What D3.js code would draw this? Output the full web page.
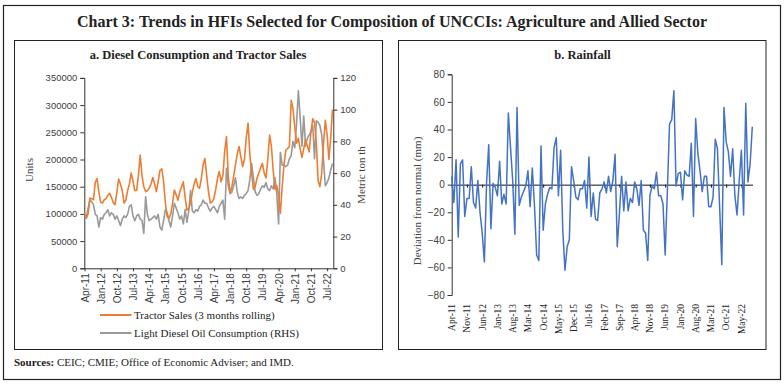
<!DOCTYPE html>
<html>
<head>
<meta charset="utf-8">
<script src="https://cdn.jsdelivr.net/npm/d3@7"></script>
<style>
  body { margin: 0; background: #fff; }
  svg { display: block; }
  .serif { font-family: "Liberation Serif", "DejaVu Serif", serif; }
  .tick text { font-family: "Liberation Sans", Arial, sans-serif; fill: #404040; }
</style>
</head>
<body>
<svg id="chart" width="784" height="387"></svg>
<script>
// monthly, Apr-11 .. Oct-22
var tractorSales = [
  95000, 92000, 100000, 129000, 128000, 126000, 158000, 165000, 140000, 121000,
  120000, 126000, 128000, 134000, 138000, 130000, 121000, 117000, 140000, 164000,
  155000, 143000, 120000, 125000, 143000, 155000, 175000, 160000, 143000, 143000,
  170000, 208000, 170000, 150000, 141000, 143000, 147000, 155000, 167000, 155000,
  141000, 160000, 180000, 183000, 160000, 120000, 95000, 92000, 100000, 120000,
  144000, 135000, 125000, 140000, 150000, 159000, 130000, 107000, 110000, 119000,
  140000, 155000, 165000, 150000, 147000, 165000, 190000, 202000, 170000, 141000,
  120000, 122000, 128000, 145000, 165000, 178000, 159000, 170000, 215000, 242000,
  169000, 138000, 150000, 169000, 190000, 210000, 224000, 205000, 187000, 200000,
  240000, 267000, 210000, 175000, 145000, 150000, 166000, 175000, 185000, 193000,
  175000, 166000, 200000, 245000, 224000, 180000, 145000, 152000, 135000, 101000,
  150000, 190000, 217000, 220000, 224000, 309000, 294000, 260000, 230000, 239000,
  220000, 204000, 220000, 236000, 225000, 214000, 250000, 275000, 268000, 230000,
  161000, 150000, 175000, 230000, 272000, 245000, 200000, 240000, 292000
];
var dieselConsumption = [
  35, 32, 38, 43, 42, 40, 34, 33, 26, 32,
  31, 34, 35, 37, 33, 35, 34, 31, 33, 30,
  27, 31, 33, 32, 34, 39, 40, 33, 30, 33,
  34, 31, 30, 22, 45, 34, 30, 31, 32, 33,
  31, 34, 26, 24, 30, 37, 35, 30, 26, 33,
  41, 38, 35, 31, 33, 28, 37, 29, 36, 49,
  36, 35, 37, 36, 39, 40, 43, 41, 41, 38,
  36, 38, 39, 37, 35, 39, 41, 43, 31, 63,
  52, 47, 48, 52, 57, 48, 44, 45, 44, 46,
  47, 49, 56, 66, 57, 48, 46, 47, 50, 52,
  51, 54, 50, 49, 52, 50, 57, 47, 28, 73,
  65, 65, 64, 65, 69, 71, 80, 76, 91, 112,
  95, 77, 96, 77, 82, 84, 86, 90, 69, 93,
  92, 90, 84, 68, 52, 54, 57, 62, 66
];
var rainfall = [
  6, -13, 18, -38, 15, 18, -23, -10, -10, 13,
  -13, -17, 3, -20, -35, -56, 1, 29, -32, 1,
  -2, -8, 17, -14, -7, -14, 52, 27, 3, -36,
  56, -15, -9, -5, -1, 10, -16, 12, -15, -51,
  -55, 28, -33, -14, -7, -2, -3, 27, 34, -8,
  25, -33, -62, -45, -40, 13, 3, -9, -11, -3,
  -3, 3, -17, 20, -23, -6, -25, -26, -6, -3,
  2, -6, 6, -5, 3, 22, -45, -21, 6, -19,
  2, -19, -10, -13, 2, -3, -15, 3, -33, -35,
  -55, -8, -1, -3, 9, -8, -8, -14, -51, -5,
  44, 47, 68, -1, 8, 9, -11, 10, 7, 6,
  30, -23, 48, 23, 10, -5, 6, 6, -16, -16,
  -9, 33, 26, -16, -58, 56, 31, 24, 6, 26,
  -8, -22, 3, 25, -22, 59, 2, 15, 42
];
var months = d3.timeMonth.range(new Date(2011, 3, 1), new Date(2022, 10, 1)).map(d3.timeFormat("%b-%y"));
var unitsTicks = [0, 50000, 100000, 150000, 200000, 250000, 300000, 350000];
var tonTicks = [0, 20, 40, 60, 80, 100, 120];
var rainTicks = [-80, -60, -40, -20, 0, 20, 40, 60, 80];

var svg = d3.select("#chart");
var serif = '"Liberation Serif", "DejaVu Serif", serif';

// frames
svg.append("rect").attr("x", 3.5).attr("y", 5.5).attr("width", 777).attr("height", 374)
  .attr("fill", "none").attr("stroke", "#222").attr("stroke-width", 1.2);
svg.append("rect").attr("x", 14.5).attr("y", 40.5).attr("width", 368).attr("height", 309)
  .attr("fill", "none").attr("stroke", "#222").attr("stroke-width", 1);
svg.append("rect").attr("x", 398.5).attr("y", 40.5).attr("width", 367.5).attr("height", 309)
  .attr("fill", "none").attr("stroke", "#222").attr("stroke-width", 1);

svg.append("text").attr("class", "serif").attr("x", 392).attr("y", 27)
  .attr("text-anchor", "middle").attr("font-size", 16).attr("font-weight", "bold").attr("fill", "#222")
  .text("Chart 3: Trends in HFIs Selected for Composition of UNCCIs: Agriculture and Allied Sector");

var src = svg.append("text").attr("class", "serif").attr("x", 14).attr("y", 366)
  .attr("font-size", 11).attr("fill", "#222");
src.append("tspan").attr("font-weight", "bold").text("Sources: ");
src.append("tspan").text("CEIC; CMIE; Office of Economic Adviser; and IMD.");

// ---- panel a ----
var xL = d3.scalePoint().domain(months).range([84.5, 332.5]);
var yL = d3.scaleLinear().domain([0, 350000]).range([268.3, 77.9]);
var yR = d3.scaleLinear().domain([0, 120]).range([268.3, 77.9]);

svg.append("text").attr("class", "serif").attr("x", 198).attr("y", 58.5)
  .attr("text-anchor", "middle").attr("font-size", 12.5).attr("font-weight", "bold").attr("fill", "#222")
  .text("a. Diesel Consumption and Tractor Sales");

var gL = svg.append("g").attr("transform", "translate(84.3,0)")
  .call(d3.axisLeft(yL).tickValues(unitsTicks).tickSize(4).tickFormat(d3.format("d")));
var gR = svg.append("g").attr("transform", "translate(333.3,0)")
  .call(d3.axisRight(yR).tickValues(tonTicks).tickSize(4));
[gL, gR].forEach(function (g) {
  g.selectAll("path, line").attr("stroke", "#333");
  g.selectAll("text").attr("font-size", 9.5);
});

var gX = svg.append("g").attr("transform", "translate(0,268.3)")
  .call(d3.axisBottom(xL).tickValues(months.filter(function (d, i) { return i % 9 === 0; })).tickSize(3));
gX.select(".domain").attr("d", "M84.3,0.5H333.3").attr("stroke", "#333");
gX.selectAll("line").attr("stroke", "#333");
gX.selectAll("text").attr("font-family", serif).attr("fill", "#222").attr("font-size", 10)
  .attr("text-anchor", "end").attr("transform", "rotate(-90)")
  .attr("x", -5).attr("y", 0).attr("dy", "0.35em");

svg.append("text").attr("class", "serif").attr("font-size", 11).attr("fill", "#444")
  .attr("text-anchor", "middle").attr("transform", "translate(33,170) rotate(-90)").text("Units");
svg.append("text").attr("class", "serif").attr("font-size", 11).attr("fill", "#444")
  .attr("text-anchor", "middle").attr("transform", "translate(365,175) rotate(-90)").text("Metric ton th");

var lineDiesel = d3.line().x(function (d, i) { return xL(months[i]); }).y(function (d) { return yR(d); });
var lineTractor = d3.line().x(function (d, i) { return xL(months[i]); }).y(function (d) { return yL(d); });

svg.append("path").datum(dieselConsumption).attr("d", lineDiesel)
  .attr("fill", "none").attr("stroke", "#999999").attr("stroke-width", 1.6).attr("stroke-linejoin", "round");
svg.append("path").datum(tractorSales).attr("d", lineTractor)
  .attr("fill", "none").attr("stroke", "#ED7D31").attr("stroke-width", 1.6).attr("stroke-linejoin", "round");

var legend = [
  { label: "Tractor Sales (3 months rolling)", color: "#ED7D31", y: 315 },
  { label: "Light Diesel Oil Consumption (RHS)", color: "#999999", y: 333 }
];
legend.forEach(function (l) {
  svg.append("line").attr("x1", 100).attr("x2", 131.5).attr("y1", l.y).attr("y2", l.y)
    .attr("stroke", l.color).attr("stroke-width", 2);
  svg.append("text").attr("class", "serif").attr("x", 134).attr("y", l.y).attr("dy", "0.35em")
    .attr("font-size", 11).attr("fill", "#222").text(l.label);
});

// ---- panel b ----
var xRain = d3.scalePoint().domain(months).range([451.7, 752.3]);
var yRain = d3.scaleLinear().domain([-80, 80]).range([295, 74.3]);

svg.append("text").attr("class", "serif").attr("x", 582.5).attr("y", 58.5)
  .attr("text-anchor", "middle").attr("font-size", 12.5).attr("font-weight", "bold").attr("fill", "#222")
  .text("b. Rainfall");

var gY = svg.append("g").attr("transform", "translate(451.7,0)")
  .call(d3.axisLeft(yRain).tickValues(rainTicks).tickSize(4));
gY.selectAll("path, line").attr("stroke", "#333");
gY.selectAll("text").attr("font-size", 10);

var rainTickMonths = months.filter(function (d, i) { return i % 7 === 0; });
var gZ = svg.append("g").attr("transform", "translate(0," + yRain(0) + ")")
  .call(d3.axisBottom(xRain).tickValues(rainTickMonths).tickSize(3).tickFormat(""));
gZ.select(".domain").attr("d", "M451.7,0.5H753").attr("stroke", "#111");
gZ.selectAll("line").attr("stroke", "#111");

svg.append("g").selectAll("text").data(rainTickMonths).join("text")
  .attr("font-family", serif).attr("font-size", 9.5).attr("fill", "#222")
  .attr("text-anchor", "end")
  .attr("transform", function (d) { return "translate(" + xRain(d) + ",304) rotate(-90)"; })
  .attr("dy", "0.35em").text(function (d) { return d; });

svg.append("text").attr("class", "serif").attr("font-size", 11).attr("fill", "#444")
  .attr("text-anchor", "middle").attr("transform", "translate(421,201) rotate(-90)")
  .text("Deviation from normal (mm)");

var lineRain = d3.line().x(function (d, i) { return xRain(months[i]); }).y(function (d) { return yRain(d); });
svg.append("path").datum(rainfall).attr("d", lineRain)
  .attr("fill", "none").attr("stroke", "#4472C4").attr("stroke-width", 1.5).attr("stroke-linejoin", "round");
</script>
</body>
</html>
